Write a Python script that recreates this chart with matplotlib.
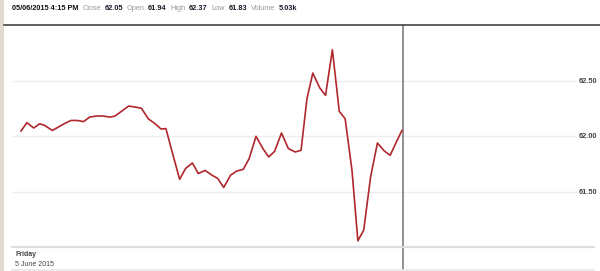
import matplotlib.pyplot as plt
from matplotlib.lines import Line2D
from matplotlib.patches import Rectangle

# minutes since 9:30 open, and price
minutes = [0, 6, 13, 19, 24, 32, 38, 45, 51, 57, 64, 70, 77, 84, 91, 96, 103, 110,
           117, 123, 130, 137, 143, 148, 155, 162, 168, 175, 181, 188, 195, 201, 207,
           214, 220, 227, 233, 240, 247, 253, 259, 266, 273, 280, 286, 292, 298, 305,
           311, 318, 325, 331, 338, 344, 350, 357, 364, 371, 377, 383, 389]
prices = [62.045, 62.12, 62.072, 62.11, 62.096, 62.05, 62.08, 62.115, 62.14, 62.14,
          62.13, 62.17, 62.18, 62.18, 62.17, 62.18, 62.225, 62.27, 62.26, 62.25,
          62.155, 62.11, 62.063, 62.067, 61.835, 61.61, 61.707, 61.757, 61.662, 61.69,
          61.647, 61.617, 61.536, 61.647, 61.683, 61.70, 61.797, 61.997, 61.887,
          61.811, 61.862, 62.027, 61.887, 61.856, 61.871, 62.336, 62.567, 62.435,
          62.366, 62.777, 62.222, 62.156, 61.692, 61.056, 61.152, 61.631, 61.937,
          61.865, 61.826, 61.94, 62.05]

y_ticks = [61.5, 62.0, 62.5]
header_stamp = "05/06/2015 4:15 PM"
header_labels = ["Close", "Open", "High", "Low", "Volume"]
header_values = ["62.05", "61.94", "62.37", "61.83", "5.03k"]
day_name = "Friday"
day_date = "5 June 2015"
close_minute = 390

plt.rcParams['font.family'] = ['Liberation Sans', 'DejaVu Sans']

W, H = 600, 271
fig = plt.figure(figsize=(6, 2.71), dpi=100)
fig.patch.set_facecolor('white')

# axes: x 12..577 px, y 25..247 px
ax = fig.add_axes([12 / W, 1 - 247 / H, (577 - 12) / W, (247 - 25) / H])
ax.set_xlim(-9.2, 567.8)
ax.set_ylim(61, 63)
for s in ax.spines.values():
    s.set_visible(False)
ax.set_xticks([])
ax.yaxis.tick_right()
ax.set_yticks(y_ticks)
ax.set_yticklabels([f"{v:.2f}" for v in y_ticks], fontsize=5.3, fontweight='bold', color='#444444')
ax.tick_params(axis='y', length=0, pad=1)
for v in y_ticks:
    ax.axhline(v, color='#eeeeee', lw=1, zorder=0)

ax.plot(minutes, prices, color='#b0272c', lw=1.2, zorder=3)
ax.axvline(close_minute, ymin=-0.099, ymax=1, color='#888888', lw=1.3, clip_on=False, zorder=2)

# frame lines
fig.add_artist(Rectangle((0, 0), 4 / W, 1, transform=fig.transFigure, color='#e2dbd0', lw=0))
fig.add_artist(Line2D([4 / W, 1], [1 - 25 / H] * 2, color='#444444', lw=1.2))
fig.add_artist(Line2D([12 / W, 594 / W], [1 - 247 / H] * 2, color='#dddddd', lw=1.6))
fig.add_artist(Line2D([12 / W, 594 / W], [1 - 270 / H] * 2, color='#e6e6e6', lw=1.2))

# header row, each piece chained after the previous one
prev = fig.text(12 / W, 1 - 9 / H, header_stamp, fontsize=5.3, fontweight='bold',
                color='#111111', va='center')
for lab, val in zip(header_labels, header_values):
    lt = ax.annotate(lab, xy=(1, 0.5), xycoords=prev, xytext=(3, 0), textcoords='offset points',
                     fontsize=5.3, color='#999999', va='center', ha='left', annotation_clip=False)
    prev = ax.annotate(val, xy=(1, 0.5), xycoords=lt, xytext=(2.2, 0), textcoords='offset points',
                       fontsize=5.3, fontweight='bold', color='#1a1a2a', va='center', ha='left',
                       annotation_clip=False)

fig.text(15 / W, 1 - 254 / H, day_name, fontsize=5, fontweight='bold', color='#444444', va='center')
fig.text(15 / W, 1 - 264 / H, day_date, fontsize=5, color='#444444', va='center')

fig.savefig('out.png', dpi=100)
